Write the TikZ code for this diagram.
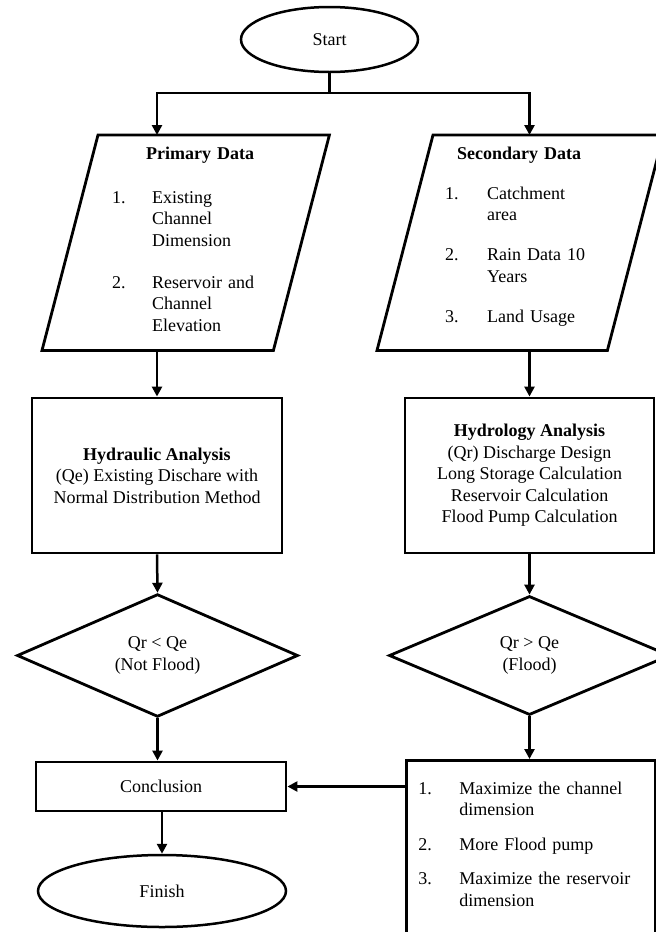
\documentclass[tikz,border=0pt]{standalone}
\usepackage{fontspec}
\setmainfont{Liberation Serif}
\usetikzlibrary{shapes.geometric,arrows.meta}
\tikzset{
  basefont/.style={font=\fontsize{18}{21.5}\selectfont, inner sep=0pt},
  term/.style={basefont, draw, ellipse, line width=2.5pt},
  proc/.style={basefont, draw, rectangle, align=center, line width=2.9pt},
  dec/.style={basefont, draw, diamond, align=center, line width=2.8pt},
  iobox/.style={basefont, rectangle, anchor=north west},
  listbox/.style={basefont, draw, rectangle, anchor=north west, line width=2.9pt},
  shp/.style={line width=2.8pt, line join=miter},
  line/.style={line width=2.5pt},
  conn/.style={line width=2.5pt, -{Triangle[length=10pt,width=10pt]}}
}
\begin{document}
\begin{tikzpicture}[x=1pt,y=-1pt]
\useasboundingbox (0,0) rectangle (656,932);

% Start
\node[term, minimum width=177pt, minimum height=65pt] (start) at (329.5,39.5) {Start};

% Primary data (parallelogram)
\node[iobox, text width=287pt, text height=24pt, text depth=191pt] (pd) at (42,135)
{\hspace*{70pt}\begin{tabular}[t]{@{}p{40pt}@{}p{136pt}@{}}
\multicolumn{2}{@{}c@{}}{\bfseries Primary Data}\\[22.5pt]
1. & Existing\\
   & Channel\\
   & Dimension\\[20.5pt]
2. & Reservoir and\\
   & Channel\\
   & Elevation
\end{tabular}};
\draw[shp] (pd.south west) -- ([xshift=-56pt]pd.south east) -- (pd.north east) -- ([xshift=56pt]pd.north west) -- cycle;

% Secondary data (parallelogram)
\node[iobox, text width=286pt, text height=24pt, text depth=191pt] (sd) at (377,135)
{\hspace*{68pt}\begin{tabular}[t]{@{}p{42pt}@{}p{106pt}@{}}
\multicolumn{2}{@{}c@{}}{\bfseries Secondary Data}\\[18.5pt]
1. & Catchment\\
   & area\\[18.5pt]
2. & Rain Data 10\\
   & Years\\[18.5pt]
3. & Land Usage
\end{tabular}};
\draw[shp] (sd.south west) -- ([xshift=-56pt]sd.south east) -- (sd.north east) -- ([xshift=56pt]sd.north west) -- cycle;

% Analyses
\node[proc, minimum width=250pt, minimum height=155pt] (hyd) at (157,475.5)
{{\bfseries Hydraulic Analysis}\\(Qe) Existing Dischare with\\Normal Distribution Method};
\node[proc, minimum width=249pt, minimum height=155pt] (hyd2) at (529.5,475.5)
{{\bfseries Hydrology Analysis}\\(Qr) Discharge Design\\Long Storage Calculation\\Reservoir Calculation\\Flood Pump Calculation};

% Decisions
\node[dec, minimum width=281pt, minimum height=119pt] (dl) at (157.5,655.5) {Qr < Qe\\(Not Flood)};
\node[dec, minimum width=281pt, minimum height=119pt] (dr) at (529.5,655.5) {Qr > Qe\\(Flood)};

% Conclusion and finish
\node[proc, minimum width=250pt, minimum height=49pt] (concl) at (161,786.5) {Conclusion};
\node[term, minimum width=248pt, minimum height=72pt] (fin) at (162,891) {Finish};

% Actions list
\node[listbox, text width=225pt, inner xsep=12pt, inner ysep=0pt, text height=34pt, text depth=175pt] (lst) at (405,759)
{\begin{tabular}[t]{@{}p{41pt}@{}l@{}}
1. & Maximize the channel\\
   & dimension\\[13pt]
2. & More Flood pump\\[13pt]
3. & Maximize the reservoir\\
   & dimension
\end{tabular}};

% Connectors
\coordinate (j) at (329.5,93);
\draw[line] (start.south) -- (j);
\draw[conn] (j) -| (pd.north -| hyd.north);
\draw[conn] (j) -| (sd.north -| hyd2.north);
\draw[conn] (pd.south -| hyd.north) -- (hyd.north);
\draw[conn] (sd.south -| hyd2.north) -- (hyd2.north);
\draw[conn] (hyd.south) -- (dl.north);
\draw[conn] (hyd2.south) -- (dr.north);
\draw[conn] (dl.south) -- (dl.south |- concl.north);
\draw[conn] (dr.south) -- (dr.south |- lst.north);
\draw[conn] (lst.west |- concl.east) -- (concl.east);
\draw[conn] (concl.south -| fin.north) -- (fin.north);
\end{tikzpicture}
\end{document}
